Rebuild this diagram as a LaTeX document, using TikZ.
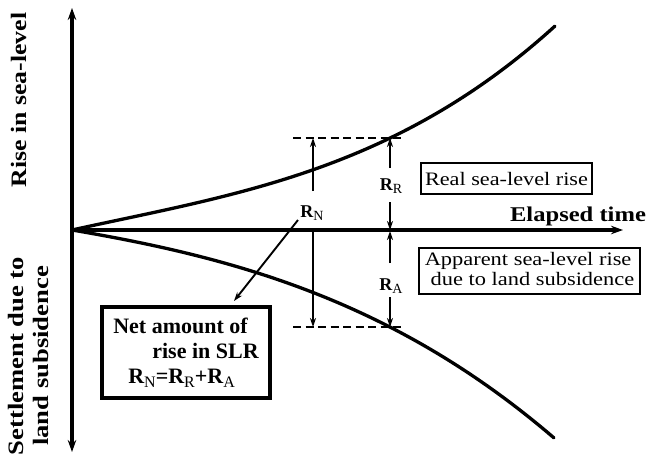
\documentclass[tikz,border=0pt]{standalone}
\usepackage{fontspec}
\usepackage{graphicx}
\setmainfont{Liberation Serif}
\usetikzlibrary{arrows.meta}
\newcommand\mysub[1]{\raisebox{-0.4ex}{\fontsize{14}{14}\selectfont\mdseries #1}}
\newcommand\bigsub[1]{\raisebox{-0.4ex}{\fontsize{16}{16}\selectfont\mdseries #1}}
\begin{document}
\begin{tikzpicture}[x=1pt,y=-1pt,
  axisline/.style={line width=3.2pt},
  tipbig/.style={-{Stealth[length=12pt,width=8.5pt]}},
  curveline/.style={line width=3.3pt, line cap=round},
  dimarrow/.style={line width=1.9pt, -{Stealth[length=9pt,width=6pt]}},
  guide/.style={line width=1.6pt, dash pattern=on 8pt off 4.5pt},
  thinbox/.style={draw, line width=2pt, inner sep=0pt},
  lab/.style={anchor=base, inner sep=0pt, font=\fontsize{18}{18}\selectfont\bfseries},
  regtext/.style={font=\fontsize{19}{20}\selectfont},
  boldtext/.style={font=\fontsize{22}{25}\selectfont\bfseries}]
\useasboundingbox (0,0) rectangle (648,458);

% axes
\coordinate (vtop) at (72,8);
\coordinate (vbot) at (72,452);
\coordinate (orig) at (72,230);
\coordinate (htip) at (623,230);
\draw[axisline, {Stealth[length=12pt,width=8.5pt]}-{Stealth[length=12pt,width=8.5pt]}] (vtop) -- (vbot);
\draw[axisline, tipbig] (orig) -- (htip);

% curves
\draw[curveline] plot[domain=0:4.83, samples=80, variable=\s] ({72+100*\s}, {230-(22*\s-1.705*\s*\s+1.22*\s*\s*\s)});
\draw[curveline] plot[domain=0:4.82, samples=80, variable=\s] ({72+100*\s}, {230+(17*\s+1.981*\s*\s+0.714*\s*\s*\s)});

% dashed guides
\coordinate (gUa) at (293,138); \coordinate (gUb) at (403,138);
\coordinate (gLa) at (293,327); \coordinate (gLb) at (403,327);
\draw[guide] (gUa) -- (gUb);
\draw[guide] (gLa) -- (gLb);

% dimension arrows
\coordinate (rnUa) at (313,191); \coordinate (rnUb) at (313,138);
\coordinate (rnLa) at (313,230); \coordinate (rnLb) at (313,327);
\draw[dimarrow] (rnUa) -- (rnUb);
\draw[dimarrow] (rnLa) -- (rnLb);
\coordinate (rrUa) at (390,168); \coordinate (rrUb) at (390,138);
\coordinate (rrLa) at (390,202); \coordinate (rrLb) at (390,230);
\draw[dimarrow] (rrUa) -- (rrUb);
\draw[dimarrow] (rrLa) -- (rrLb);
\coordinate (raUa) at (390,263); \coordinate (raUb) at (390,231);
\coordinate (raLa) at (390,297); \coordinate (raLb) at (390,327);
\draw[dimarrow] (raUa) -- (raUb);
\draw[dimarrow] (raLa) -- (raLb);

% labels
\node[lab] (rn) at (312,217) {R\mysub{N}};
\node[lab] (rr) at (391,190) {R\mysub{R}};
\node[lab] (ra) at (391,290) {R\mysub{A}};

% boxes
\node[thinbox, minimum width=171pt, minimum height=31pt, regtext] (real) at (506.5,178.5) {\scalebox{1.17}[1]{Real sea-level rise}};
\node[thinbox, minimum width=221pt, minimum height=46pt, regtext] (appar) at (529.5,271) {\scalebox{1.18}[1]{\begin{tabular}{@{}l@{}}Apparent sea-level rise\\\hspace*{5pt}due to land subsidence\end{tabular}}};
\node[draw, line width=4.3pt, minimum width=168pt, minimum height=91pt, inner sep=0pt, align=left, boldtext] (net) at (186,352.5) {Net amount of\\\hspace*{39pt}rise in SLR\\\hspace*{15pt}R\bigsub{N}=R\bigsub{R}+R\bigsub{A}};

% arrow from R_N to box
\coordinate (rnstart) at (298,220);
\coordinate (rnend) at (234,301);
\draw[dimarrow] (rnstart) -- (rnend);

% axis titles
\node[anchor=base, inner sep=0pt, font=\fontsize{21}{21}\selectfont\bfseries] (elapsed) at (578,221) {\scalebox{1.17}[1]{Elapsed time}};
\node[rotate=90, inner sep=0pt, boldtext] (rise) at (19,100) {\scalebox{1.17}[1]{Rise in sea-level}};
\node[rotate=90, inner sep=0pt, boldtext] (settle) at (31.5,356) {\scalebox{1.21}[1]{\begin{tabular}{@{}c@{}}Settlement due to\\land subsidence\end{tabular}}};
\end{tikzpicture}
\end{document}
